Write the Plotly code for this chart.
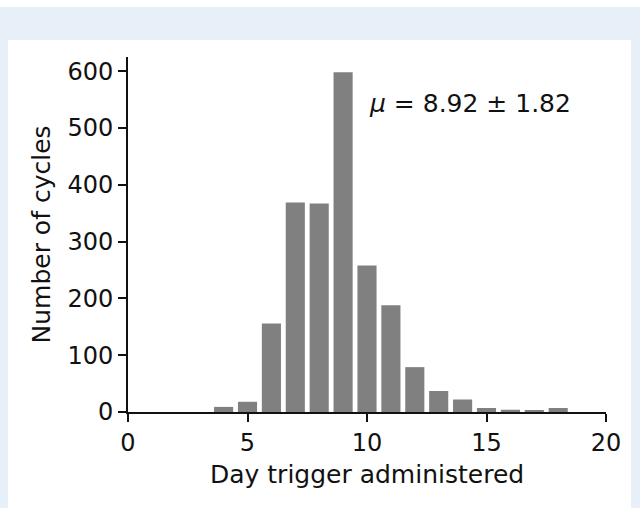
import plotly.graph_objects as go

days = [4, 5, 6, 7, 8, 9, 10, 11, 12, 13, 14, 15, 16, 17, 18]
cycles = [9, 18, 156, 369, 367, 598, 258, 188, 79, 37, 22, 7, 4, 2, 7]
x_ticks = [0, 5, 10, 15, 20]
y_ticks = [0, 100, 200, 300, 400, 500, 600]
annotation_text = "<i>μ</i> = 8.92 ± 1.82"
x_title = "Day trigger administered"
y_title = "Number of cycles"

W, H = 640, 508
L, R, T, B = 128, 34, 57, 96
pw, ph = W - L - R, H - T - B

def px_x(p):
    return (p - L) / pw

def px_y(p):
    return (H - B - p) / ph

font = dict(family="DejaVu Sans", size=25, color="#111111")
tick_font = dict(family="DejaVu Sans", size=24, color="#111111")

fig = go.Figure(go.Bar(x=days, y=cycles, width=0.8, marker=dict(color="#808080", line=dict(width=0))))

fig.update_layout(
    width=W, height=H,
    margin=dict(l=L, r=R, t=T, b=B, pad=0),
    paper_bgcolor="#e7eff9",
    plot_bgcolor="white",
    showlegend=False,
    font=font,
    shapes=[
        dict(type="rect", xref="paper", yref="paper", x0=px_x(-5), x1=px_x(650),
             y0=px_y(7), y1=px_y(-5), fillcolor="white", line=dict(width=0), layer="below"),
        dict(type="rect", xref="paper", yref="paper", x0=px_x(8), x1=px_x(631),
             y0=px_y(515), y1=px_y(40), fillcolor="white", line=dict(width=0), layer="below"),
    ],
    annotations=[
        dict(x=10, y=544, xref="x", yref="y", text=annotation_text, showarrow=False,
             xanchor="left", yanchor="middle", font=font),
        dict(x=0.5, y=px_y(474), xref="paper", yref="paper", text=x_title, showarrow=False,
             xanchor="center", yanchor="middle", font=font),
        dict(x=px_x(41), y=0.5, xref="paper", yref="paper", text=y_title, showarrow=False,
             xanchor="center", yanchor="middle", textangle=-90, font=font),
    ],
)

fig.update_xaxes(range=[0, 20], tickvals=x_ticks, ticks="outside", ticklen=8, tickwidth=1.8,
                 tickcolor="#111111", showline=True, linecolor="#111111", linewidth=1.8,
                 showgrid=False, zeroline=False, tickfont=tick_font)
fig.update_yaxes(range=[0, 625], tickvals=y_ticks, ticks="outside", ticklen=8, tickwidth=1.8,
                 tickcolor="#111111", showline=True, linecolor="#111111", linewidth=1.8,
                 showgrid=False, zeroline=False, tickfont=tick_font)

fig.write_html("out.html")
